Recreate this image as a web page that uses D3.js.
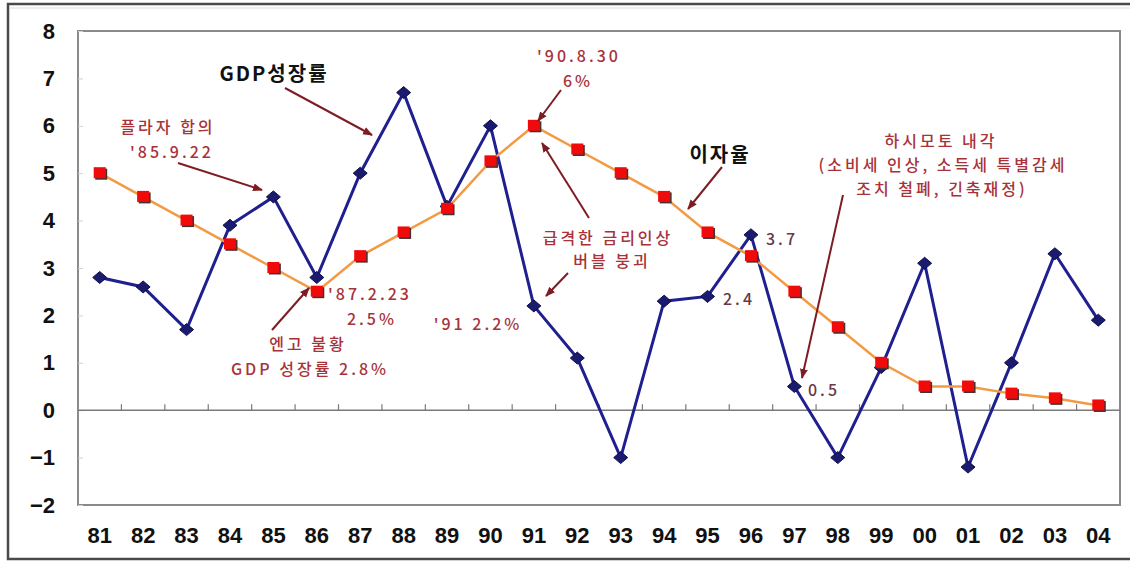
<!DOCTYPE html>
<html>
<head>
<meta charset="utf-8">
<script src="https://cdn.jsdelivr.net/npm/d3@7/dist/d3.min.js"></script>
<style>
  body { margin: 0; background: #fff; }
  svg { display: block; }
</style>
</head>
<body>
<svg id="chart" width="1130" height="562"></svg>
<script>
const years = ["81","82","83","84","85","86","87","88","89","90","91","92","93","94","95","96","97","98","99","00","01","02","03","04"];
const gdpGrowth = [2.8, 2.6, 1.7, 3.9, 4.5, 2.8, 5.0, 6.7, 4.3, 6.0, 2.2, 1.1, -1.0, 2.3, 2.4, 3.7, 0.5, -1.0, 0.9, 3.1, -1.2, 1.0, 3.3, 1.9];
const interestRate = [5.0, 4.5, 4.0, 3.5, 3.0, 2.5, 3.25, 3.75, 4.25, 5.25, 6.0, 5.5, 5.0, 4.5, 3.75, 3.25, 2.5, 1.75, 1.0, 0.5, 0.5, 0.35, 0.25, 0.1];
const yTicks = [-2, -1, 0, 1, 2, 3, 4, 5, 6, 7, 8];

const svg = d3.select("#chart");
const margin = { top: 31, right: 10, bottom: 57, left: 78 };
const width = 1130 - margin.left - margin.right;
const height = 562 - margin.top - margin.bottom;

// outer frame
svg.append("rect")
    .attr("x", 8).attr("y", 4)
    .attr("width", 1140).attr("height", 555)
    .attr("fill", "none")
    .attr("stroke", "#4a4a4a")
    .attr("stroke-width", 2.5);
svg.append("line")
    .attr("x1", 10).attr("x2", 1130).attr("y1", 8).attr("y2", 8)
    .attr("stroke", "#ddd").attr("stroke-width", 1);

const g = svg.append("g").attr("transform", `translate(${margin.left},${margin.top})`);

const x = d3.scaleBand().domain(years).range([0, width]).padding(0);
const y = d3.scaleLinear().domain([-2, 8]).range([height, 0]);
const cx = d => x(d) + x.bandwidth() / 2;

// plot frame
g.append("rect")
    .attr("width", width).attr("height", height)
    .attr("fill", "#fff")
    .attr("stroke", "#8a8a8a")
    .attr("stroke-width", 2);

// y axis labels + faint ticks
const yAxis = g.append("g")
    .call(d3.axisLeft(y).tickValues(yTicks).tickSize(-5).tickPadding(23).tickFormat(d => d < 0 ? "\u2212" + Math.abs(d) : d));
yAxis.select(".domain").remove();
yAxis.selectAll("line").attr("stroke", "#cfcfcf").attr("stroke-width", 1);
yAxis.selectAll("text")
    .attr("font-family", "Liberation Sans, Arial, sans-serif")
    .attr("font-weight", "bold")
    .attr("font-size", 22)
    .attr("fill", "#111");

// zero line with upward ticks at band edges
const zero = g.append("g").attr("transform", `translate(0,${y(0)})`);
zero.append("line").attr("x1", 0).attr("x2", width).attr("stroke", "#7a7a7a").attr("stroke-width", 1.5);
zero.selectAll(".zt")
    .data(years.slice(1))
    .enter()
    .append("line")
    .attr("x1", d => x(d)).attr("x2", d => x(d))
    .attr("y1", 0).attr("y2", -6)
    .attr("stroke", "#7a7a7a").attr("stroke-width", 1.2);

// x axis labels
const xAxis = g.append("g")
    .attr("transform", `translate(0,${height})`)
    .call(d3.axisBottom(x).tickSize(0).tickPadding(22));
xAxis.select(".domain").remove();
xAxis.selectAll("text")
    .attr("font-family", "Liberation Sans, Arial, sans-serif")
    .attr("font-weight", "bold")
    .attr("font-size", 22)
    .attr("fill", "#111");

const gdpData = years.map((yr, i) => ({ yr, v: gdpGrowth[i] }));
const rateData = years.map((yr, i) => ({ yr, v: interestRate[i] }));
const line = d3.line().x(d => cx(d.yr)).y(d => y(d.v));

// GDP line (navy) with diamonds
g.append("path")
    .datum(gdpData)
    .attr("d", line)
    .attr("fill", "none")
    .attr("stroke", "#1f1f8f")
    .attr("stroke-width", 3);
g.selectAll(".diamond")
    .data(gdpData)
    .enter()
    .append("path")
    .attr("class", "diamond")
    .attr("transform", d => `translate(${cx(d.yr)},${y(d.v)})`)
    .attr("d", "M0,-6 L7,0 L0,6 L-7,0 Z")
    .attr("fill", "#1a1a6e")
    .attr("stroke", "#10104a")
    .attr("stroke-width", 1);

// interest rate line (orange) with red squares
g.append("path")
    .datum(rateData)
    .attr("d", line)
    .attr("fill", "none")
    .attr("stroke", "#f39a45")
    .attr("stroke-width", 2.5);
const sq = g.selectAll(".sq")
    .data(rateData)
    .enter()
    .append("g")
    .attr("class", "sq")
    .attr("transform", d => `translate(${cx(d.yr)},${y(d.v)})`);
sq.append("rect")
    .attr("x", -4.5).attr("y", -4.5).attr("width", 12).attr("height", 11)
    .attr("fill", "#4a3030");
sq.append("rect")
    .attr("x", -6).attr("y", -6).attr("width", 12).attr("height", 11)
    .attr("fill", "#f00a0a");

// annotations
const defs = svg.append("defs");
defs.append("marker")
    .attr("id", "ah")
    .attr("viewBox", "0 0 10 10")
    .attr("refX", 9).attr("refY", 5)
    .attr("markerWidth", 5).attr("markerHeight", 5)
    .attr("orient", "auto")
    .append("path")
    .attr("d", "M0,1 L10,5 L0,9 Z")
    .attr("fill", "#7e1c24");

const arrows = [
  [285, 88, 372, 135],
  [178, 163, 262, 190],
  [561, 90, 538, 121],
  [589, 218, 542, 143],
  [568, 273, 546, 296],
  [722, 167, 688, 209],
  [272, 330, 309, 288],
  [843, 195, 802, 378]
];
svg.selectAll(".arrow")
    .data(arrows)
    .enter()
    .append("line")
    .attr("x1", d => d[0]).attr("y1", d => d[1])
    .attr("x2", d => d[2]).attr("y2", d => d[3])
    .attr("stroke", "#7e1c24")
    .attr("stroke-width", 2)
    .attr("marker-end", "url(#ah)");

const labels = [
  ["GDP성장률", 274, 72, "middle", "title"],
  ["이자율", 720, 153, "middle", "title"],
  ["플라자 합의", 168, 126, "middle", "note"],
  ["'85.9.22", 172, 151, "middle", "note"],
  ["'90.8.30", 579, 55, "middle", "note"],
  ["6%", 578, 80, "middle", "note"],
  ["급격한 금리인상", 608, 237, "middle", "note"],
  ["버블 붕괴", 612, 260, "middle", "note"],
  ["'87.2.23", 328, 293, "start", "note"],
  ["2.5%", 372, 318, "middle", "note"],
  ["엔고 불황", 308, 343, "middle", "note"],
  ["GDP 성장률 2.8%", 310, 368, "middle", "note"],
  ["'91 2.2%", 478, 323, "middle", "note"],
  ["2.4", 723, 298, "start", "num"],
  ["3.7", 766, 238, "start", "num"],
  ["0.5", 808, 389, "start", "num"],
  ["하시모토 내각", 941, 140, "middle", "note"],
  ["(소비세 인상, 소득세 특별감세", 943, 164, "middle", "note"],
  ["조치 철폐, 긴축재정)", 942, 188, "middle", "note"]
];
svg.selectAll(".lbl")
    .data(labels)
    .enter()
    .append("text")
    .attr("x", d => d[1]).attr("y", d => d[2])
    .attr("text-anchor", d => d[3])
    .attr("dominant-baseline", "central")
    .attr("font-family", "'Noto Sans CJK KR', 'Noto Sans', sans-serif")
    .attr("font-size", d => d[4] === "title" ? 20 : 16)
    .attr("font-weight", d => d[4] === "title" ? "bold" : 500)
    .attr("letter-spacing", d => d[4] === "title" ? 2 : 3)
    .attr("fill", d => d[4] === "title" ? "#111" : (d[4] === "num" ? "#6a3848" : "#a8323a"))
    .text(d => d[0]);
</script>
</body>
</html>
